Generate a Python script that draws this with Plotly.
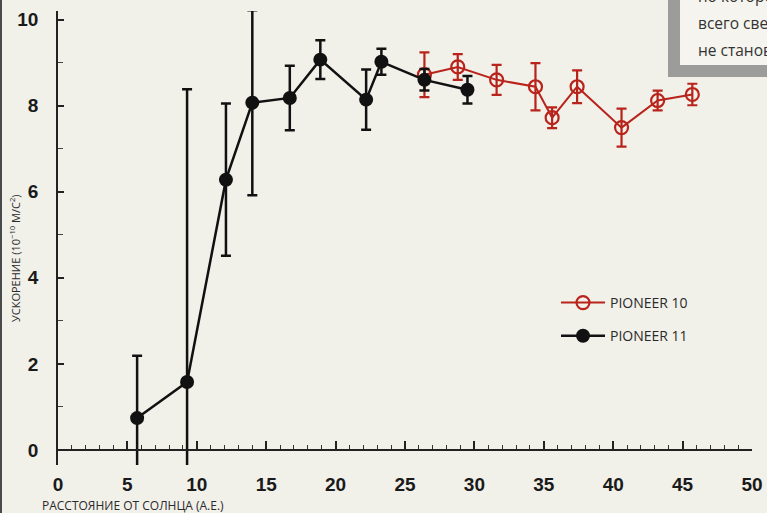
import plotly.graph_objects as go

# Pioneer 10 (red, open circles)
p10_x = [26.4, 28.8, 31.6, 34.4, 35.6, 37.4, 40.6, 43.2, 45.7]
p10_y = [8.72, 8.90, 8.60, 8.44, 7.72, 8.44, 7.49, 8.12, 8.26]
p10_err = [0.52, 0.30, 0.35, 0.55, 0.24, 0.38, 0.44, 0.23, 0.25]

# Pioneer 11 (black, filled circles)
p11_x = [5.7, 9.3, 12.1, 14.0, 16.7, 18.9, 22.2, 23.3, 26.4, 29.5]
p11_y = [0.74, 1.58, 6.28, 8.07, 8.18, 9.07, 8.14, 9.02, 8.60, 8.37]
p11_err = [1.45, 6.80, 1.77, 2.15, 0.75, 0.45, 0.70, 0.30, 0.25, 0.32]

x_ticks = [0, 5, 10, 15, 20, 25, 30, 35, 40, 45, 50]
y_ticks = [0, 2, 4, 6, 8, 10]

box_lines = ["по которой", "всего света", "не становится"]

RED = "#b8231b"
BG = "#f1f0e9"

fig = go.Figure()
fig.add_trace(go.Scatter(
    x=p10_x, y=p10_y, mode="lines+markers", name="PIONEER 10",
    legendgroup="a",
    line=dict(color=RED, width=2),
    marker=dict(symbol="circle-open", size=13, color=RED, line=dict(width=2.2, color=RED)),
    error_y=dict(type="data", array=p10_err, color=RED, thickness=2.2, width=5),
))
fig.add_trace(go.Scatter(
    x=p11_x, y=p11_y, mode="lines+markers", name="PIONEER 11",
    legendgroup="b",
    line=dict(color="#111111", width=2.5),
    marker=dict(symbol="circle", size=14, color="#111111"),
    error_y=dict(type="data", array=p11_err, color="#111111", thickness=2.5, width=5),
))

ymin, ymax = -0.35, 10.2
fig.update_layout(
    width=767, height=513,
    margin=dict(l=58, r=15, t=11, b=48, autoexpand=False),
    paper_bgcolor=BG, plot_bgcolor=BG,
    showlegend=True,
    legend=dict(x=(556 - 58) / 694, y=(465 - 287) / 454, xanchor="left", yanchor="top",
                bgcolor="rgba(0,0,0,0)", font=dict(family="Open Sans", size=14, color="#2a2a2a"),
                itemwidth=44,
                tracegroupgap=12, traceorder="grouped"),
    xaxis=dict(range=[0, 50], tickvals=x_ticks, showgrid=False, zeroline=False,
               automargin=False,
               anchor="free", position=(0 - ymin) / (ymax - ymin),
               showline=True, linecolor="#222222", linewidth=1.5,
               ticks="inside", ticklen=8, tickwidth=1.5, tickcolor="#222222",
               minor=dict(dtick=1, ticks="inside", ticklen=4, tickwidth=1.2, tickcolor="#333333"),
               ticklabelstandoff=18,
               tickfont=dict(family="Liberation Sans", size=19, color="#1a1a1a", weight="bold")),
    yaxis=dict(range=[ymin, ymax], tickvals=y_ticks, showgrid=False, zeroline=False,
               automargin=False,
               showline=True, linecolor="#222222", linewidth=1.5,
               ticks="inside", ticklen=6, tickwidth=1.5, tickcolor="#222222",
               minor=dict(dtick=1, ticks="inside", ticklen=5, tickwidth=1.2, tickcolor="#444444"),
               ticklabelstandoff=14,
               tickfont=dict(family="Liberation Sans", size=19, color="#1a1a1a", weight="bold")),
)

# axis titles
fig.add_annotation(text="РАССТОЯНИЕ ОТ СОЛНЦА (А.Е.)", xref="paper", yref="paper",
                   x=-18 / 694, y=-40 / 454, xanchor="left", yanchor="middle", showarrow=False,
                   font=dict(family="Open Sans", size=12, color="#2a2a2a"))
fig.add_annotation(text="УСКОРЕНИЕ (10<sup>−10</sup> М/С<sup>2</sup>)", xref="paper", yref="paper",
                   x=-43 / 694, y=(465 - 258) / 454, xanchor="center", yanchor="middle",
                   textangle=-90, showarrow=False,
                   font=dict(family="Open Sans", size=11, color="#2a2a2a"))

# thin dark edge at the left of the picture
fig.add_shape(type="rect", xref="paper", yref="paper",
              x0=-58 / 694, x1=-56 / 694, y0=-48 / 454, y1=(454 + 11) / 454,
              line=dict(width=0), fillcolor="#4a4a4a", layer="above")

# cropped text box in top-right corner
fig.add_shape(type="rect", xref="paper", yref="paper",
              x0=(674 - 58) / 694, x1=(800 - 58) / 694,
              y0=(465 - 71) / 454, y1=(465 + 20) / 454,
              line=dict(color="#9c9c9a", width=12), fillcolor="#f5f4ee", layer="above")
for i, t in enumerate(box_lines):
    fig.add_annotation(text=t, xref="paper", yref="paper",
                       x=(696 - 58) / 694, y=(465 - (-4 + 27 * i)) / 454,
                       xanchor="left", yanchor="middle", showarrow=False,
                       font=dict(family="Open Sans", size=15.5, color="#333333"))

fig.write_html("out.html", config={"displayModeBar": False},
               post_script="document.body.style.margin='0px';")
